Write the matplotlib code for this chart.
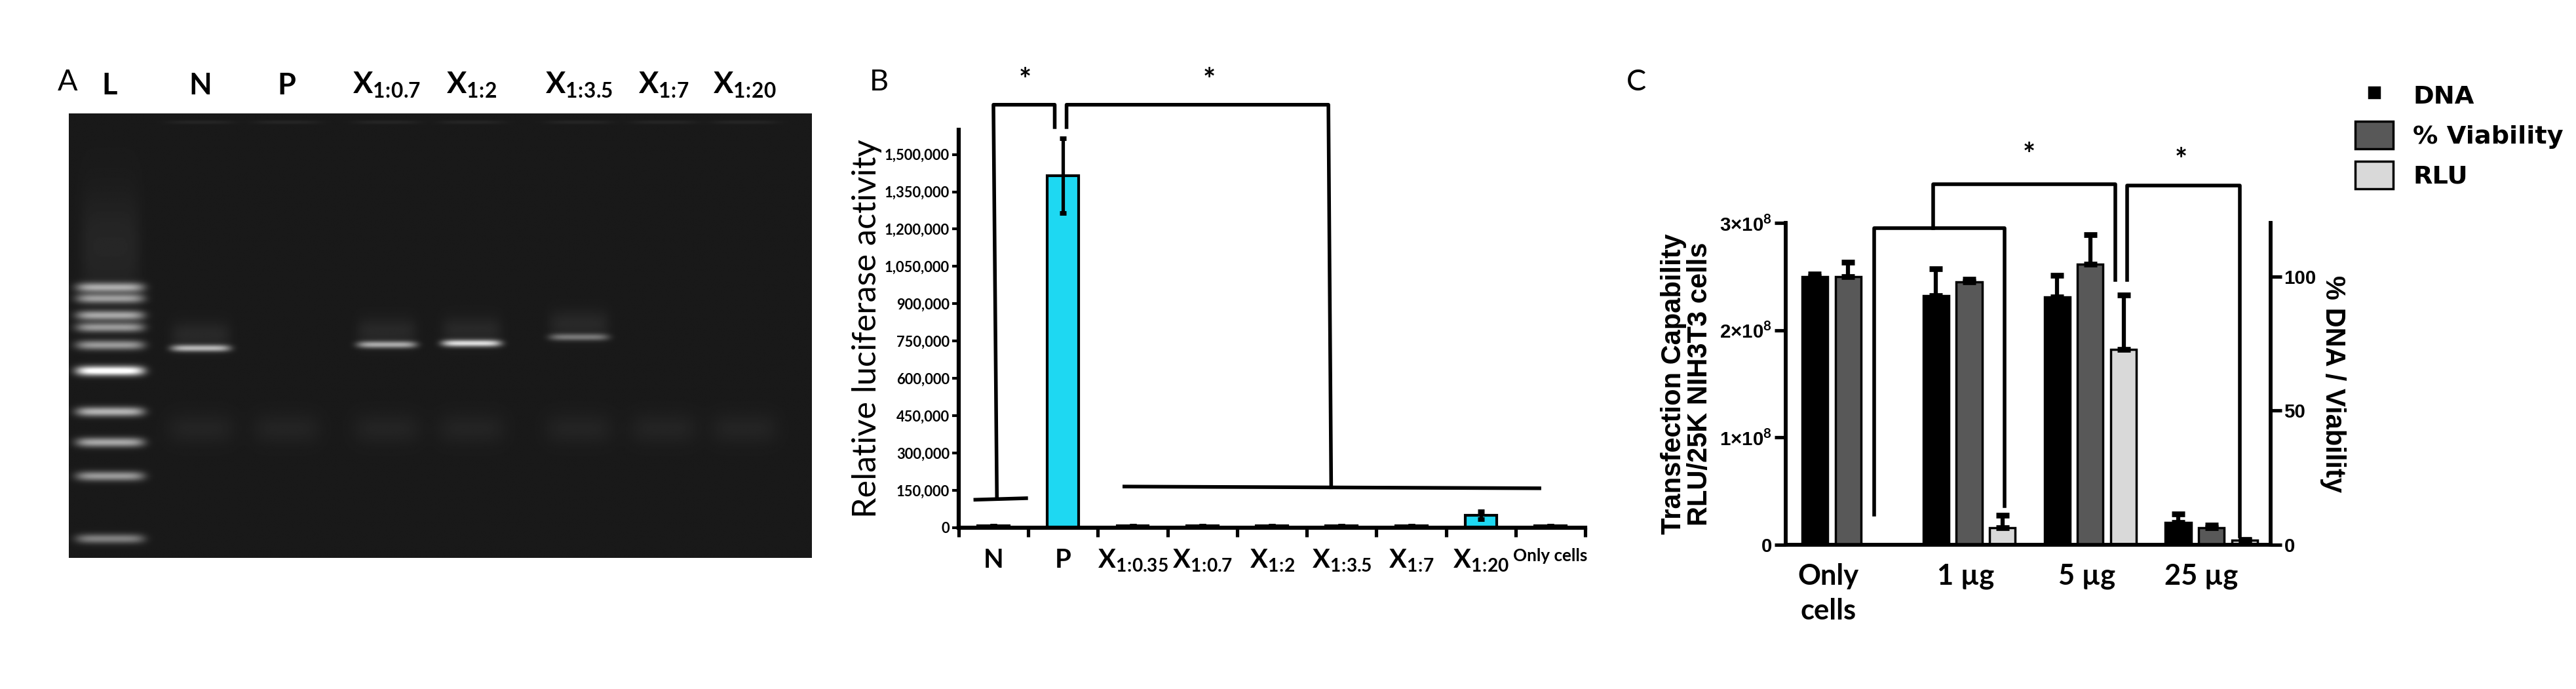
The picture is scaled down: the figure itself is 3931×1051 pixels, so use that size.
import matplotlib
matplotlib.use("Agg")
import matplotlib.pyplot as plt
import numpy as np
from matplotlib.lines import Line2D
from matplotlib.patches import Patch

plt.rcParams["font.family"] = ["Lato", "DejaVu Sans"]
plt.rcParams["mathtext.fontset"] = "custom"
plt.rcParams["mathtext.rm"] = "Lato:bold"
plt.rcParams["mathtext.bf"] = "Lato:bold"
plt.rcParams["mathtext.it"] = "Lato:bold"


def xsub(s):
    # X with a bold ratio subscript, colon without relation spacing
    a, b = s.split(":")
    return r"X$_{\mathbf{%s\!:\!%s}}$" % (a, b)


# ---------------- data ----------------
# Panel A (gel): lane label, lane centre (fraction of gel width)
gel_lanes = ["L", "N", "P", xsub("1:0.7"), xsub("1:2"), xsub("1:3.5"), xsub("1:7"), xsub("1:20")]
gel_lane_x = [0.055, 0.177, 0.293, 0.428, 0.542, 0.687, 0.801, 0.91]
ladder_y = [0.392, 0.417, 0.455, 0.482, 0.522, 0.580, 0.672, 0.741, 0.817, 0.958]
ladder_int = [0.55, 0.5, 0.55, 0.5, 0.5, 0.95, 0.6, 0.55, 0.5, 0.4]
band_lane = [1, 3, 4, 5]
band_y = [0.529, 0.521, 0.518, 0.504]
band_int = [0.6, 0.55, 0.75, 0.35]

# Panel B
b_labels = ["N", "P", xsub("1:0.35"), xsub("1:0.7"), xsub("1:2"),
            xsub("1:3.5"), xsub("1:7"), xsub("1:20"), "Only cells"]
b_values = [8000, 1415000, 8000, 8000, 8000, 8000, 8000, 49000, 8000]
b_err = [0, 150000, 0, 0, 0, 0, 0, 15000, 0]
b_ticks = list(range(0, 1500001, 150000))

# Panel C
c_groups = ["Only\ncells", "1 µg", "5 µg", "25 µg"]
c_dna = [100, 93, 92.4, 8.2]          # % (right axis)
c_dna_err = [1, 10, 8, 3.3]
c_via = [100, 98, 104.7, 6.2]         # % (right axis)
c_via_err = [5.5, 1, 11, 1]
c_rlu = [0, 1.56e7, 1.82e8, 4e6]      # RLU (left axis)
c_rlu_err = [0, 1.2e7, 5.1e7, 1e6]

fig = plt.figure(figsize=(15.724, 4.204), dpi=250)
W, H = 1568.0, 420.0


def rect(x0, y0, x1, y1):
    return [x0 / W, 1 - y1 / H, (x1 - x0) / W, (y1 - y0) / H]


# ---------------- Panel A ----------------
axA = fig.add_axes(rect(42, 69, 494, 340))
yy, xx = np.mgrid[0:1:400j, 0:1:600j]
img = np.full(yy.shape, 0.1)
lx = gel_lane_x[0]
prof = np.exp(-((xx - lx) / 0.046) ** 6)
for yb, it in zip(ladder_y, ladder_int):
    img += it * prof * np.exp(-((yy - yb) / 0.011) ** 2)
img += 0.05 * np.exp(-((xx - lx) / 0.04) ** 6) * np.exp(-((yy - 0.3) / 0.12) ** 2)
for li, yb, it in zip(band_lane, band_y, band_int):
    p = np.exp(-((xx - gel_lane_x[li]) / 0.04) ** 6)
    img += it * p * np.exp(-((yy - yb) / 0.008) ** 2)
    img += 0.06 * p * np.exp(-((yy - yb + 0.03) / 0.03) ** 2)
for x in gel_lane_x[1:]:
    p = np.exp(-((xx - x) / 0.045) ** 4)
    img += 0.04 * p * np.exp(-((yy - 0.71) / 0.035) ** 2)
    img += 0.05 * p * np.exp(-((yy - 0.02) / 0.004) ** 2)
axA.imshow(img, cmap="gray", vmin=0, vmax=1, aspect="auto", extent=[0, 1, 1, 0])
axA.set_xticks([])
axA.set_yticks([])
for s in axA.spines.values():
    s.set_visible(False)
for lab, x in zip(gel_lanes, gel_lane_x):
    axA.text(x, 1.03, lab, transform=axA.transAxes, ha="center",
             va="bottom", fontsize=13, fontweight="bold")
fig.text(41 / W, 1 - 50 / H, "A", fontsize=13, va="center", ha="center")

# ---------------- Panel B ----------------
axB = fig.add_axes(rect(583.5, 79, 965, 321.6))
xb = np.arange(len(b_values))
axB.bar(xb, b_values, width=0.45, color="#1ed8f2", edgecolor="black", linewidth=1.2)
axB.errorbar(xb, b_values, yerr=b_err, fmt="none", ecolor="black", elinewidth=1.5,
             capsize=1.5, capthick=2)
axB.set_xlim(-0.5, 8.5)
axB.set_ylim(0, 1600000)
axB.set_yticks(b_ticks)
axB.set_yticklabels([f"{v:,}" for v in b_ticks], fontsize=6.3, fontweight="bold")
axB.set_xticks(np.arange(-0.5, 9, 1), minor=False)
axB.set_xticklabels([])
axB.set_xticks(xb, minor=True)
axB.set_xticklabels(b_labels, minor=True, fontsize=11.5, fontweight="bold")
axB.tick_params(axis="x", which="minor", length=0, pad=9)
axB.tick_params(axis="x", which="major", length=4, width=1.5)
axB.tick_params(axis="y", length=3, width=1.2, pad=1)
for lab in axB.get_xticklabels(minor=True)[-1:]:
    lab.set_fontsize(7.5)
for s in ["top", "right"]:
    axB.spines[s].set_visible(False)
for s in ["left", "bottom"]:
    axB.spines[s].set_linewidth(1.8)
axB.set_ylabel("Relative luciferase activity", fontsize=14.5, labelpad=1)
kw = dict(color="black", lw=1.6, clip_on=False)
axB.plot([-0.26, 0.47], [112000, 118000], **kw)
axB.plot([0.05, 0.0, 0.88, 0.88], [115000, 1700000, 1700000, 1610000], **kw)
axB.plot([1.05, 1.05, 4.81, 4.85], [1610000, 1700000, 1700000, 162000], **kw)
axB.plot([1.88, 7.84], [165000, 158000], **kw)
axB.text(0.45, 1.74e6, "*", ha="center", va="bottom", fontsize=13, fontweight="bold")
axB.text(3.1, 1.74e6, "*", ha="center", va="bottom", fontsize=13, fontweight="bold")
axB.annotate("", xy=(1.78, -0.72e6), xytext=(4.0, -0.72e6), annotation_clip=False,
             arrowprops=dict(arrowstyle="->", lw=1.8, mutation_scale=14))
axB.annotate("", xy=(7.75, -0.72e6), xytext=(5.5, -0.72e6), annotation_clip=False,
             arrowprops=dict(arrowstyle="->", lw=1.8, mutation_scale=14))
axB.text(4.75, -0.72e6, "Xfect", ha="center", va="center", fontsize=11.5, fontweight="bold")
fig.text(535 / W, 1 - 50 / H, "B", fontsize=13, va="center", ha="center")

# ---------------- Panel C ----------------
axC = fig.add_axes(rect(1087, 136, 1382, 332))
axR = axC.twinx()
g0 = 0.87 + 3.64 * np.arange(len(c_groups))
bw = 0.77
ek = dict(fmt="none", ecolor="black", elinewidth=1.8, capsize=3, capthick=2.5)
axR.bar(g0, c_dna, width=bw, color="black", edgecolor="black")
axR.errorbar(g0, c_dna, yerr=[np.zeros(4), c_dna_err], **ek)
axR.bar(g0 + 1, c_via, width=bw, color="#585858", edgecolor="black", lw=1)
axR.errorbar(g0 + 1, c_via, yerr=[np.zeros(4), c_via_err], **ek)
rl = np.array(c_rlu)
m = rl > 0
axC.bar((g0 + 2)[m], rl[m], width=bw, color="#d9d9d9", edgecolor="black", lw=1)
axC.errorbar((g0 + 2)[m], rl[m], yerr=[np.zeros(m.sum()), np.array(c_rlu_err)[m]], **ek)
axC.set_xlim(0, 14.56)
axC.set_ylim(0, 3e8)
axR.set_ylim(0, 120)
tfam = ["Liberation Sans Narrow", "Liberation Sans"]
axC.set_yticks([0, 1e8, 2e8, 3e8])
axC.set_yticklabels(["0", "1×10$^8$", "2×10$^8$", "3×10$^8$"], fontsize=8.5,
                    family=tfam, fontweight="bold")
axR.set_yticks([0, 50, 100])
axR.set_yticklabels(["0", "50", "100"], fontsize=8.5, family=tfam, fontweight="bold")
axC.set_xticks(g0 + np.array([0.4, 0.9, 0.9, 0.7]))
axC.set_xticklabels(c_groups, fontsize=12.5, fontweight="bold", va="top", ha="center",
                    linespacing=1.4)
axC.tick_params(axis="x", length=0, pad=8)
for a in (axC, axR):
    a.tick_params(axis="y", length=5, width=1.5, pad=1)
    a.spines["top"].set_visible(False)
    for s in ["left", "right", "bottom"]:
        a.spines[s].set_linewidth(1.6)
axC.set_ylabel("Transfection Capability\nRLU/25K NIH3T3 cells", fontsize=12,
               fontweight="bold", family="Liberation Sans", labelpad=3, linespacing=1.0)
axR.set_ylabel("% DNA / Viability", fontsize=12, fontweight="bold",
               family="Liberation Sans", rotation=270, labelpad=13)
kw = dict(color="black", lw=1.6, clip_on=False)
axC.plot([2.65, 2.65, 6.58, 6.58], [2.8e7, 2.95e8, 2.95e8, 3.6e7], **kw)
axC.plot([4.42, 4.42, 9.9, 9.9], [2.95e8, 3.36e8, 3.36e8, 2.47e8], **kw)
axC.plot([10.25, 10.25, 13.65, 13.65], [2.47e8, 3.35e8, 3.35e8, 0.8e7], **kw)
axC.text(7.31, 3.5e8, "*", ha="center", va="bottom", fontsize=13, fontweight="bold")
axC.text(11.87, 3.45e8, "*", ha="center", va="bottom", fontsize=13, fontweight="bold")
handles = [Line2D([], [], ls="none", marker="s", color="black", markersize=4.5),
           Patch(facecolor="#585858", edgecolor="black"),
           Patch(facecolor="#d9d9d9", edgecolor="black")]
fig.legend(handles, ["DNA", "% Viability", "RLU"], loc="upper left",
           bbox_to_anchor=(1420 / W, 1 - 36 / H), frameon=False,
           prop=dict(family="Liberation Sans Narrow", weight="bold", size=11),
           handlelength=1.5, handleheight=1.3, labelspacing=0.5, handletextpad=0.8)
fig.text(996 / W, 1 - 50 / H, "C", fontsize=13, va="center", ha="center")

fig.savefig("out.png", dpi=250)
